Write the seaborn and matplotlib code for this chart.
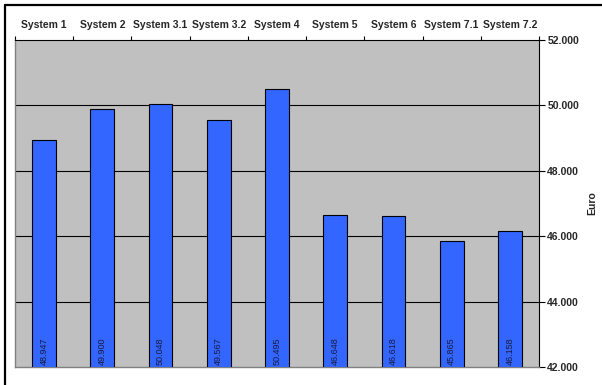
import matplotlib
matplotlib.use("Agg")
import matplotlib.pyplot as plt
from matplotlib.ticker import FuncFormatter, FixedLocator
from matplotlib.lines import Line2D
import seaborn as sns
import pandas as pd

systems = ["System 1", "System 2", "System 3.1", "System 3.2", "System 4",
           "System 5", "System 6", "System 7.1", "System 7.2"]
costs = [48947, 49900, 50048, 49567, 50495, 46648, 46618, 45865, 46158]
y_ticks = [42000, 44000, 46000, 48000, 50000, 52000]

df = pd.DataFrame({"system": systems, "cost": costs})

sns.set_theme(style="white")
plt.rcParams["font.family"] = ["Liberation Sans", "DejaVu Sans"]

fig = plt.figure(figsize=(6.02, 3.85), dpi=100)
ax = fig.add_axes([15 / 602, 18 / 385, 524 / 602, 327 / 385])
ax.set_facecolor("#C0C0C0")

sns.barplot(data=df, x="system", y="cost", order=systems, color="#3366FF",
            saturation=1, width=0.41, edgecolor="black", linewidth=0.8,
            ax=ax, zorder=3)

ax.set_ylim(y_ticks[0], y_ticks[-1])
ax.set_xlim(-0.5, len(systems) - 0.5)

# horizontal gridlines
for yv in y_ticks[1:-1]:
    ax.axhline(yv, color="black", lw=0.8, zorder=1)

def thousands(v, _):
    return f"{int(round(v)):,}".replace(",", ".")

ax.yaxis.set_major_locator(FixedLocator(y_ticks))
ax.yaxis.set_major_formatter(FuncFormatter(thousands))
ax.yaxis.tick_right()
ax.yaxis.set_label_position("right")
ax.tick_params(axis="y", which="major", direction="out", length=4, width=0.8,
               color="black", labelsize=7.5, pad=2, left=False, right=True)
for lbl in ax.get_yticklabels():
    lbl.set_fontweight("bold")
ax.set_ylabel("Euro", fontsize=7.5, fontweight="bold", labelpad=6)

# category names along the top, tick marks between categories
ax.xaxis.tick_top()
ax.set_xlabel("")
ax.set_xticks(range(len(systems)))
ax.set_xticklabels(systems, fontsize=7.5, fontweight="bold")
ax.set_xticks([i - 0.5 for i in range(len(systems) + 1)], minor=True)
ax.tick_params(axis="x", which="major", length=0, pad=7, top=True, bottom=False)
ax.tick_params(axis="x", which="minor", length=3, width=0.8, color="black",
               top=True, bottom=False, direction="out")

for side in ["left", "bottom"]:
    ax.spines[side].set_color("#808080")
    ax.spines[side].set_linewidth(1.0)
for side in ["top", "right"]:
    ax.spines[side].set_color("black")
    ax.spines[side].set_linewidth(0.8)
    ax.spines[side].set_visible(True)
ax.spines["left"].set_visible(True)
ax.spines["bottom"].set_visible(True)

# value labels at the foot of each bar
for i, v in enumerate(costs):
    ax.text(i, y_ticks[0] + 70, thousands(v, None), rotation=90, ha="center",
            va="bottom", fontsize=6.5, color="#1A1A40", zorder=4)

# outer frame edges
fig.add_artist(Line2D([4.5 / 602, 4.5 / 602], [0, 1 - 4.5 / 385],
                      transform=fig.transFigure, color="black", lw=1.6))
fig.add_artist(Line2D([4.5 / 602, 1], [1 - 4.5 / 385, 1 - 4.5 / 385],
                      transform=fig.transFigure, color="black", lw=1.6))

fig.savefig("out.png", dpi=100)
